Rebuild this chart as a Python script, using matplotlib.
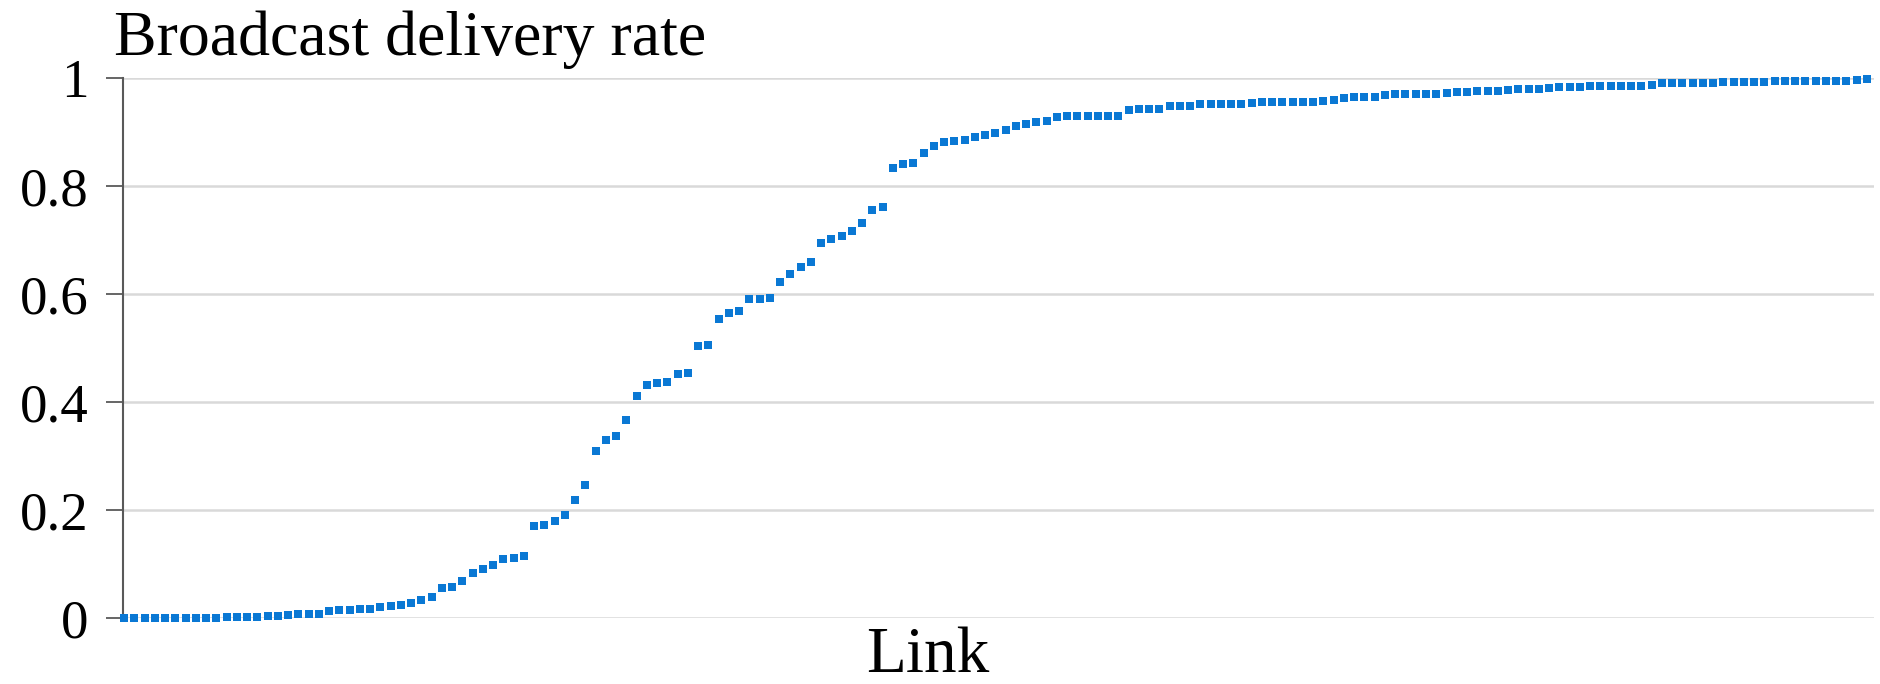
import matplotlib
matplotlib.use("Agg")
import matplotlib.pyplot as plt
import numpy as np

# delivery rate per link, sorted ascending
delivery_rate = [
    0, 0, 0, 0, 0, 0, 0, 0, 0, 0,
    0.001, 0.001, 0.001, 0.002, 0.003, 0.004, 0.006, 0.007, 0.007, 0.007,
    0.013, 0.014, 0.014, 0.017, 0.017, 0.020, 0.023, 0.024, 0.027, 0.033,
    0.038, 0.055, 0.057, 0.069, 0.084, 0.091, 0.098, 0.109, 0.111, 0.114,
    0.170, 0.172, 0.179, 0.191, 0.218, 0.246, 0.309, 0.330, 0.337, 0.367,
    0.412, 0.431, 0.435, 0.437, 0.452, 0.454, 0.504, 0.506, 0.553, 0.564,
    0.568, 0.590, 0.591, 0.593, 0.622, 0.637, 0.650, 0.659, 0.694, 0.701,
    0.708, 0.717, 0.731, 0.756, 0.762, 0.833, 0.840, 0.842, 0.861, 0.875,
    0.882, 0.884, 0.886, 0.891, 0.894, 0.899, 0.904, 0.911, 0.914, 0.918,
    0.920, 0.928, 0.929, 0.929, 0.930, 0.930, 0.930, 0.930, 0.941, 0.943,
    0.943, 0.943, 0.948, 0.948, 0.949, 0.951, 0.951, 0.951, 0.951, 0.952,
    0.953, 0.956, 0.956, 0.956, 0.956, 0.956, 0.956, 0.957, 0.959, 0.963,
    0.964, 0.964, 0.965, 0.969, 0.970, 0.970, 0.971, 0.971, 0.971, 0.973,
    0.974, 0.975, 0.976, 0.976, 0.976, 0.977, 0.979, 0.979, 0.979, 0.981,
    0.983, 0.984, 0.984, 0.985, 0.986, 0.986, 0.986, 0.986, 0.986, 0.987,
    0.990, 0.990, 0.990, 0.990, 0.990, 0.990, 0.992, 0.992, 0.992, 0.992,
    0.993, 0.994, 0.994, 0.995, 0.995, 0.995, 0.995, 0.995, 0.995, 0.996,
    0.998,
]
links = np.arange(1, len(delivery_rate) + 1)

y_ticks = [0, 0.2, 0.4, 0.6, 0.8, 1]
y_tick_labels = ["0", "0.2", "0.4", "0.6", "0.8", "1"]

plt.rcParams['font.family'] = ['Liberation Serif', 'DejaVu Serif']

fig = plt.figure(figsize=(18.81, 6.84), dpi=100)
ax = fig.add_axes([123 / 1881, 66 / 684, (1874 - 123) / 1881, 540 / 684])

ax.plot(links, delivery_rate, linestyle='none', marker='s', markersize=5.3,
        color='#0a78d4', markeredgewidth=0, clip_on=False, zorder=3)

ax.set_xlim(0.9, 171.7)
ax.set_ylim(0, 1)
ax.set_xticks([])
ax.set_yticks(y_ticks)
ax.set_yticklabels(y_tick_labels)
ax.tick_params(axis='y', length=12, width=1.3, color='#595959', pad=13,
               labelsize=39.5, labelcolor='black')

ax.grid(axis='y', color='#d9d9d9', linewidth=1.8)
ax.set_axisbelow(True)
for side in ['top', 'right', 'bottom']:
    ax.spines[side].set_visible(False)
ax.spines['left'].set_color('#595959')
ax.spines['left'].set_linewidth(1.5)

fig.text(114 / 1881, (684 - 55) / 684, "Broadcast delivery rate",
         fontsize=46, ha='left', va='baseline')
fig.text(928 / 1881, 12 / 684, "Link", fontsize=47, ha='center', va='baseline')

fig.savefig("out.png", dpi=100)
